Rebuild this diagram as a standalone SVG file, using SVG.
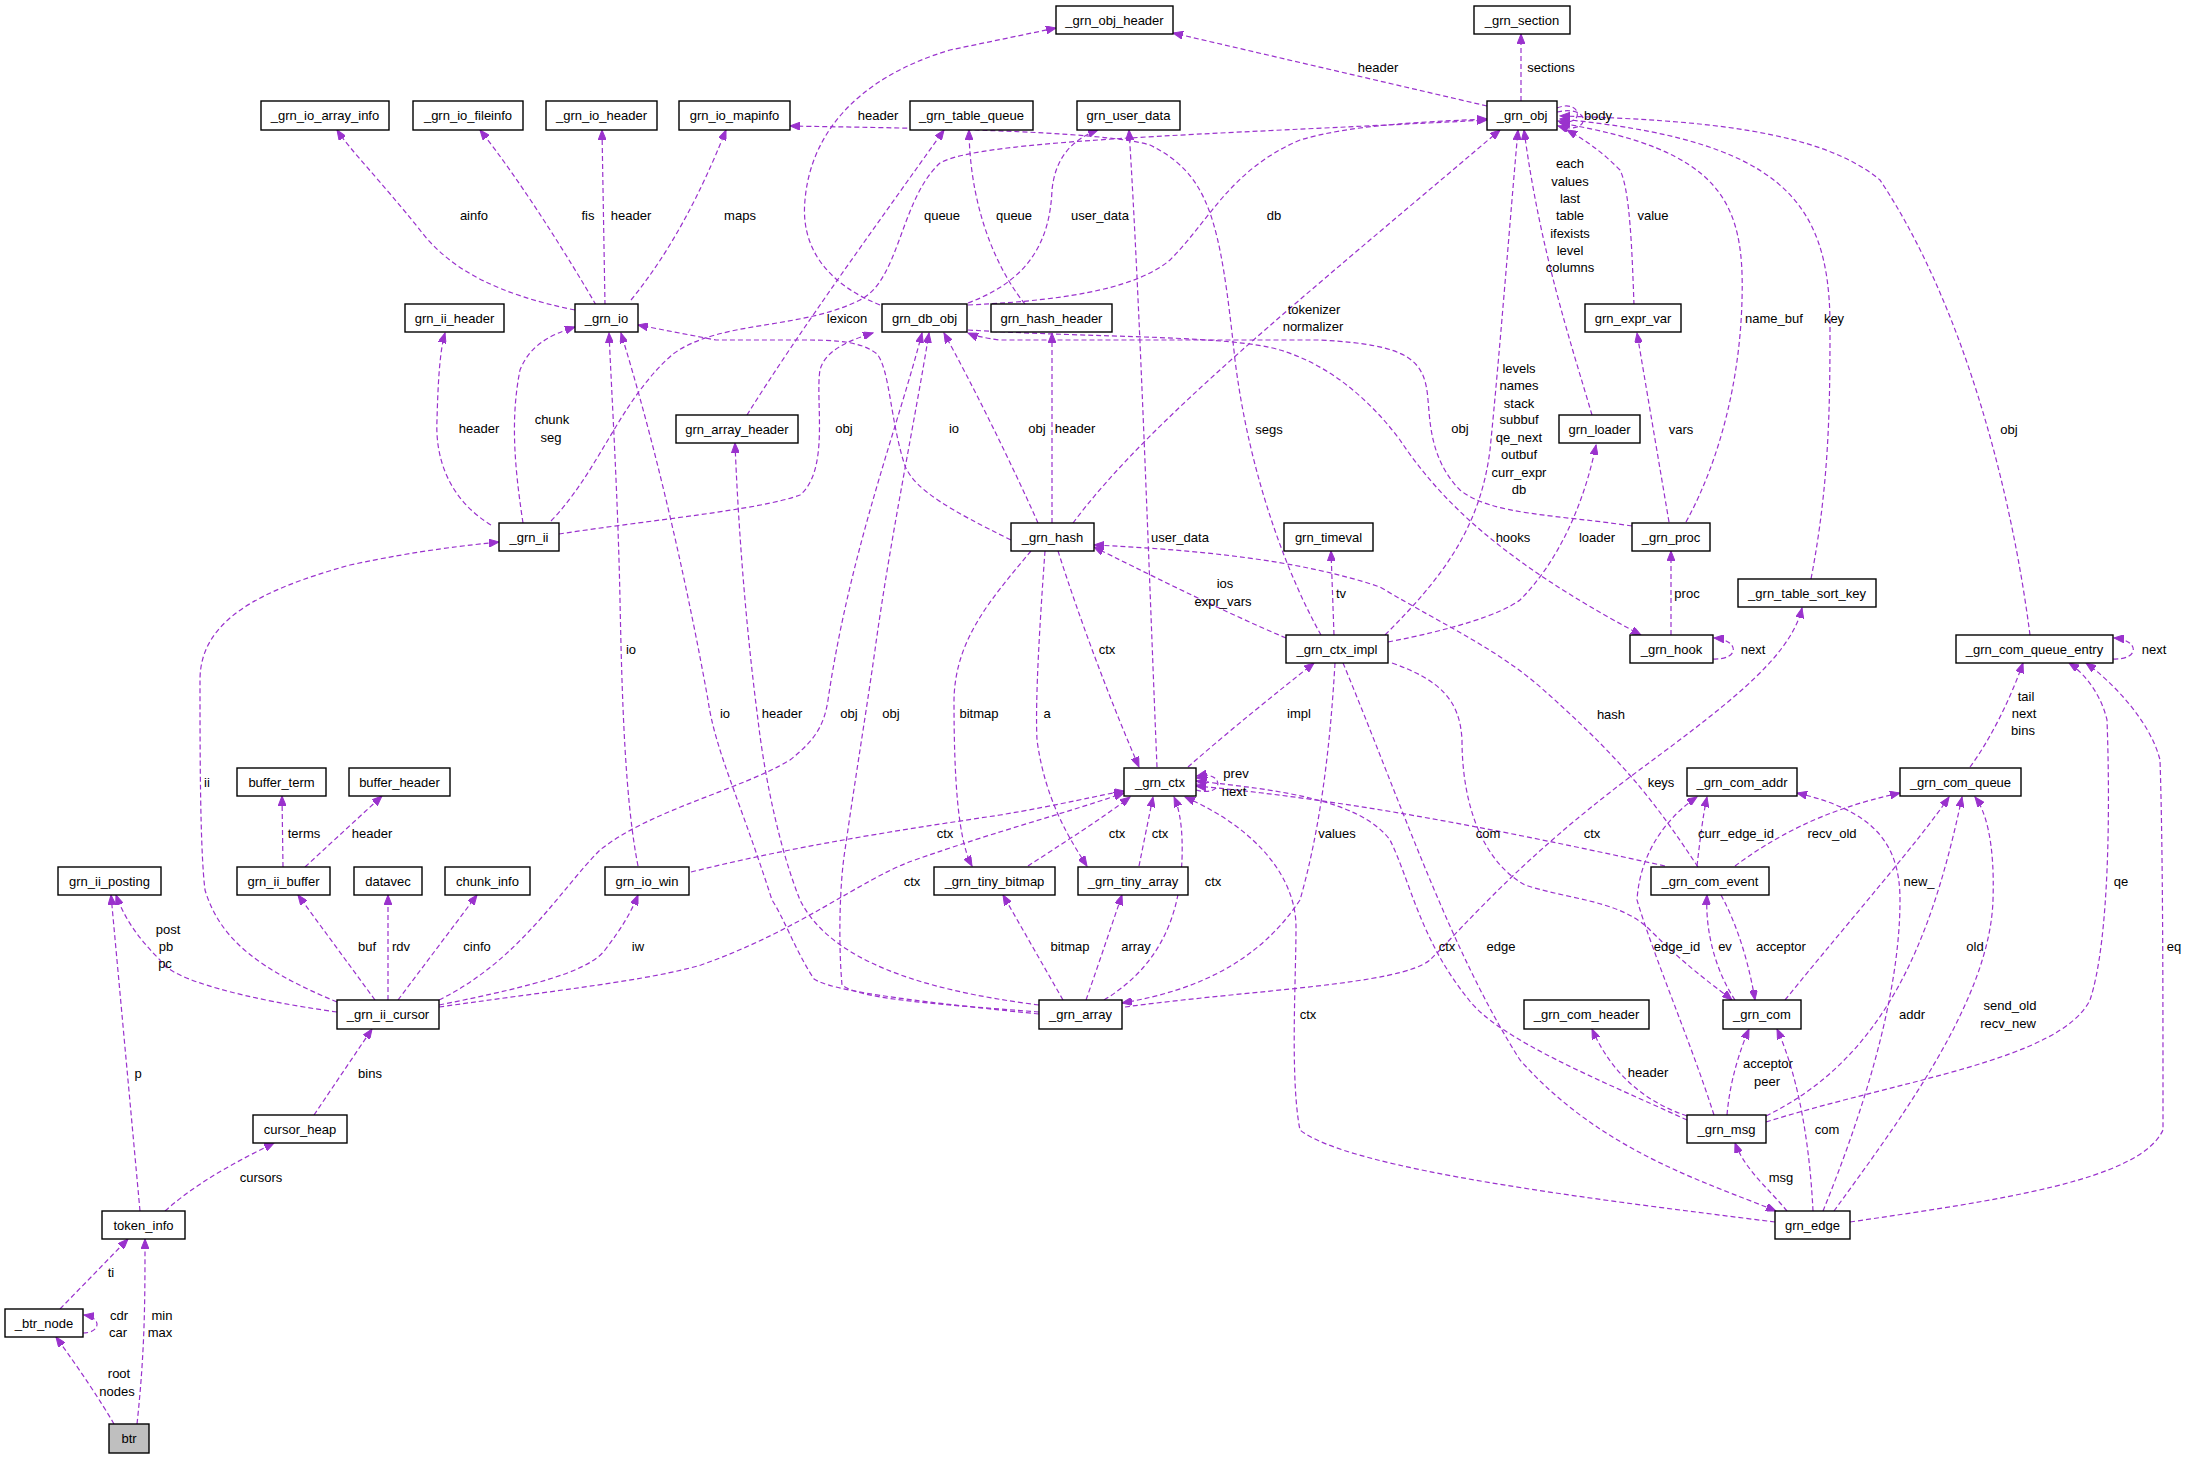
<svg xmlns="http://www.w3.org/2000/svg" width="2191" height="1459" viewBox="0 0 2191 1459">
<style>
text{font-family:"Liberation Sans",Arial,sans-serif;font-size:13px;fill:#000}
.n rect{fill:#fff;stroke:#000;stroke-width:1.4}
.n text{text-anchor:middle}
.e path{fill:none;stroke:#9a32cd;stroke-width:1.2;stroke-dasharray:5,3;marker-end:url(#a)}
.l text{text-anchor:middle}
</style>
<defs><marker id="a" markerUnits="userSpaceOnUse" markerWidth="11" markerHeight="8" refX="10" refY="4" orient="auto"><path d="M0,0 L10,4 L0,8 z" fill="#9a32cd" stroke="#9a32cd"/></marker></defs>
<rect width="2191" height="1459" fill="#fff"/>
<g class="e">
<path d="M880,305 C830,285 800,250 805,200 C810,140 850,80 950,50 L1056,28"/>
<path d="M575,310 C500,295 450,270 420,230 C380,180 350,150 337,130"/>
<path d="M596,305 C570,260 520,180 480,130"/>
<path d="M605,305 L602,130"/>
<path d="M631,300 C680,240 710,170 726,130"/>
<path d="M491,525 C450,500 435,460 437,420 C438,380 440,350 445,333"/>
<path d="M523,523 C515,470 510,420 520,370 C530,345 550,335 575,327"/>
<path d="M551,521 C600,470 620,400 673,354 C720,320 800,330 860,300 C900,280 900,200 940,163 C980,140 1200,135 1487,120"/>
<path d="M559,534 C650,520 760,510 800,495 C830,470 815,400 820,370 C825,350 850,340 873,333"/>
<path d="M747,415 C800,330 880,220 944,130"/>
<path d="M1025,304 C1005,280 970,220 969,130"/>
<path d="M968,303 C1030,280 1050,240 1052,190 C1055,160 1070,140 1098,130"/>
<path d="M968,305 C1080,300 1140,285 1170,260 C1210,220 1230,170 1300,140 C1350,125 1420,122 1487,119"/>
<path d="M1011,540 C950,510 915,490 905,466 C890,420 890,370 877,354 C860,340 830,340 800,340 L716,340 L638,325"/>
<path d="M1038,523 C1010,460 970,380 944,333"/>
<path d="M1052,523 L1052,333"/>
<path d="M1073,523 C1150,420 1300,300 1500,130"/>
<path d="M1632,526 C1560,515 1490,515 1460,490 C1430,460 1430,420 1428,400 C1425,360 1410,345 1321,340 L1000,340 C985,338 975,336 968,333"/>
<path d="M1321,635 C1290,580 1250,480 1235,360 C1220,220 1210,175 1150,145 C1100,130 900,128 790,126"/>
<path d="M968,330 C1100,338 1230,335 1280,350 C1330,365 1370,400 1400,440 C1440,500 1500,560 1641,635"/>
<path d="M1388,642 C1450,630 1500,615 1520,600 C1560,560 1585,500 1596,445"/>
<path d="M1385,635 C1440,580 1480,530 1490,450 C1500,350 1510,220 1518,130"/>
<path d="M1592,415 C1570,340 1540,250 1524,130"/>
<path d="M1634,305 C1632,250 1630,190 1620,170 C1600,150 1585,140 1567,130"/>
<path d="M1669,522 L1637,333"/>
<path d="M1686,522 C1720,460 1740,380 1742,300 C1745,200 1720,150 1560,123"/>
<path d="M1811,579 C1830,480 1830,400 1830,320 C1828,200 1780,140 1560,119"/>
<path d="M2030,635 C2010,480 1960,300 1880,180 C1820,130 1700,120 1560,116"/>
<path d="M1557,108 C1582,98 1586,128 1558,121"/>
<path d="M1557,112 C1592,104 1592,136 1558,126"/>
<path d="M1487,106 L1173,33"/>
<path d="M1521,101 L1521,34"/>
<path d="M1671,635 L1671,551"/>
<path d="M1713,659 C1740,660 1740,640 1714,638"/>
<path d="M2113,659 C2140,660 2140,640 2114,638"/>
<path d="M1334,635 L1331,551"/>
<path d="M1286,638 C1220,610 1140,570 1094,547"/>
<path d="M1698,867 C1660,810 1630,767 1547,693 C1500,650 1447,627 1380,587 C1300,560 1200,550 1094,545"/>
<path d="M1125,1007 C1250,990 1400,985 1430,960 C1470,920 1520,860 1630,777 C1720,710 1790,660 1802,608"/>
<path d="M1139,866 L1153,797"/>
<path d="M1028,866 C1060,845 1100,820 1130,797"/>
<path d="M691,872 C800,845 900,830 1000,815 C1060,805 1100,795 1124,791"/>
<path d="M439,1007 C560,990 650,980 701,965 C800,930 860,880 912,861 C1000,830 1060,815 1124,793"/>
<path d="M1104,1000 C1170,960 1180,900 1182,860 C1183,830 1180,810 1174,797"/>
<path d="M1058,551 C1080,620 1110,700 1139,767"/>
<path d="M1157,767 C1150,600 1140,300 1129,130"/>
<path d="M1188,767 C1230,730 1280,690 1314,663"/>
<path d="M1335,663 C1330,750 1320,830 1300,900 C1260,960 1200,990 1122,1003"/>
<path d="M1392,663 C1440,680 1460,700 1462,740 C1462,800 1480,860 1525,885 C1570,900 1620,900 1650,930 C1690,970 1720,990 1732,1000"/>
<path d="M1343,663 C1400,800 1450,950 1520,1060 C1600,1150 1700,1180 1776,1211"/>
<path d="M1665,866 C1500,830 1350,800 1196,786"/>
<path d="M1687,1120 C1600,1080 1500,1040 1469,1000 C1420,940 1410,880 1390,840 C1360,800 1280,790 1196,781"/>
<path d="M1775,1222 C1600,1200 1350,1170 1300,1130 C1290,1080 1296,980 1296,927 C1296,880 1260,830 1185,797"/>
<path d="M1697,866 C1700,840 1703,815 1707,797"/>
<path d="M1735,866 C1770,840 1820,810 1900,793"/>
<path d="M1735,1000 C1715,970 1705,930 1707,895"/>
<path d="M1721,895 C1740,930 1750,970 1755,1000"/>
<path d="M1785,1000 C1850,920 1920,840 1949,797"/>
<path d="M1714,1115 C1690,1040 1655,960 1637,900 C1640,850 1670,815 1697,797"/>
<path d="M1727,1115 C1730,1080 1740,1050 1749,1029"/>
<path d="M1687,1116 C1640,1100 1610,1070 1592,1029"/>
<path d="M1766,1116 C1880,1060 1930,950 1962,797"/>
<path d="M1766,1122 C1900,1080 2060,1060 2090,1000 C2110,940 2110,800 2107,720 C2100,690 2080,670 2069,663"/>
<path d="M1787,1211 C1770,1190 1745,1170 1735,1143"/>
<path d="M1813,1211 C1810,1150 1800,1080 1777,1029"/>
<path d="M1823,1211 C1860,1120 1900,1000 1900,900 C1900,840 1870,810 1797,793"/>
<path d="M1834,1211 C1900,1120 1990,1000 1993,900 C1995,840 1985,810 1975,797"/>
<path d="M1850,1222 C2000,1200 2140,1180 2163,1130 C2163,1000 2163,850 2160,760 C2150,720 2110,680 2086,663"/>
<path d="M1970,767 C1990,740 2010,700 2023,663"/>
<path d="M337,1002 C260,970 220,940 205,890 C200,850 200,750 200,680 C200,620 260,590 350,565 C420,550 470,545 499,542"/>
<path d="M337,1012 C250,1000 170,980 160,960 C140,940 125,920 116,895"/>
<path d="M375,1000 L298,895"/>
<path d="M388,1000 L388,895"/>
<path d="M398,1000 L477,895"/>
<path d="M439,1005 C540,985 590,970 605,950 C620,930 630,915 638,895"/>
<path d="M439,1000 C520,960 560,890 600,850 C650,810 740,790 790,760 C815,740 824,726 828,700 C850,550 900,420 922,333"/>
<path d="M1039,1012 C950,1005 860,1000 842,985 C838,940 840,880 845,850 C855,780 865,720 875,650 C890,540 915,420 929,333"/>
<path d="M1039,1014 C900,1000 830,990 814,979 C795,950 785,920 772,900 C740,800 715,750 708,700 C690,600 660,460 621,333"/>
<path d="M1039,1005 C920,990 830,960 800,900 C780,850 765,780 758,720 C745,620 738,520 735,443"/>
<path d="M638,866 C625,800 622,700 620,600 C618,500 612,400 609,333"/>
<path d="M1031,551 C990,600 955,640 954,700 C954,780 958,840 972,866"/>
<path d="M1045,551 C1040,620 1035,700 1037,740 C1045,800 1070,840 1087,866"/>
<path d="M1063,1000 L1003,895"/>
<path d="M1086,1000 C1100,960 1110,930 1122,895"/>
<path d="M140,1211 L111,895"/>
<path d="M165,1211 C200,1180 240,1160 274,1143"/>
<path d="M314,1115 L372,1029"/>
<path d="M283,867 L282,796"/>
<path d="M305,867 L382,796"/>
<path d="M60,1309 L128,1239"/>
<path d="M1196,790 C1225,798 1225,770 1197,776"/>
<path d="M1196,784 C1212,786 1212,776 1197,778"/>
<path d="M83,1333 C100,1333 103,1318 84,1315"/>
<path d="M114,1424 C100,1400 80,1370 56,1337"/>
<path d="M137,1424 C145,1350 145,1300 145,1239"/>
</g>
<g class="l">
<text x="878" y="120">header</text><text x="474" y="220">ainfo</text><text x="588" y="220">fis</text><text x="631" y="220">header</text><text x="740" y="220">maps</text>
<text x="479" y="433">header</text><text x="552" y="424">chunk</text><text x="551" y="442">seg</text><text x="847" y="323">lexicon</text><text x="844" y="433">obj</text>
<text x="942" y="220">queue</text><text x="1014" y="220">queue</text><text x="1100" y="220">user_data</text><text x="1274" y="220">db</text>
<text x="954" y="433">io</text><text x="1037" y="433">obj</text><text x="1075" y="433">header</text><text x="1314" y="314">tokenizer</text><text x="1313" y="331">normalizer</text>
<text x="1460" y="433">obj</text><text x="1269" y="434">segs</text><text x="1513" y="542">hooks</text><text x="1597" y="542">loader</text>
<text x="1519" y="373">levels</text><text x="1519" y="390">names</text><text x="1519" y="408">stack</text><text x="1519" y="424">subbuf</text><text x="1519" y="442">qe_next</text><text x="1519" y="459">outbuf</text><text x="1519" y="477">curr_expr</text><text x="1519" y="494">db</text>
<text x="1570" y="168">each</text><text x="1570" y="186">values</text><text x="1570" y="203">last</text><text x="1570" y="220">table</text><text x="1570" y="238">ifexists</text><text x="1570" y="255">level</text><text x="1570" y="272">columns</text>
<text x="1653" y="220">value</text><text x="1681" y="434">vars</text><text x="1774" y="323">name_buf</text><text x="1834" y="323">key</text><text x="2009" y="434">obj</text>
<text x="1598" y="120">body</text><text x="1378" y="72">header</text><text x="1551" y="72">sections</text><text x="1687" y="598">proc</text><text x="1753" y="654">next</text><text x="2154" y="654">next</text>
<text x="1341" y="598">tv</text><text x="1225" y="588">ios</text><text x="1223" y="606">expr_vars</text><text x="1611" y="719">hash</text><text x="1661" y="787">keys</text>
<text x="1160" y="838">ctx</text><text x="1117" y="838">ctx</text><text x="945" y="838">ctx</text><text x="912" y="886">ctx</text><text x="1213" y="886">ctx</text><text x="1107" y="654">ctx</text>
<text x="1180" y="542">user_data</text><text x="1299" y="718">impl</text><text x="1337" y="838">values</text><text x="1488" y="838">com</text><text x="1501" y="951">edge</text><text x="1592" y="838">ctx</text><text x="1447" y="951">ctx</text><text x="1308" y="1019">ctx</text>
<text x="1236" y="778">prev</text><text x="1234" y="796">next</text>
<text x="1736" y="838">curr_edge_id</text><text x="1832" y="838">recv_old</text><text x="1725" y="951">ev</text><text x="1781" y="951">acceptor</text><text x="1919" y="886">new_</text><text x="1677" y="951">edge_id</text>
<text x="1768" y="1068">acceptor</text><text x="1767" y="1086">peer</text><text x="1648" y="1077">header</text><text x="1975" y="951">old</text><text x="2121" y="886">qe</text><text x="1781" y="1182">msg</text><text x="1827" y="1134">com</text><text x="1912" y="1019">addr</text>
<text x="2010" y="1010">send_old</text><text x="2008" y="1028">recv_new</text><text x="2174" y="951">eq</text><text x="2026" y="701">tail</text><text x="2024" y="718">next</text><text x="2023" y="735">bins</text>
<text x="207" y="787">ii</text><text x="168" y="934">post</text><text x="166" y="951">pb</text><text x="165" y="968">pc</text><text x="367" y="951">buf</text><text x="401" y="951">rdv</text><text x="477" y="951">cinfo</text><text x="638" y="951">iw</text>
<text x="849" y="718">obj</text><text x="891" y="718">obj</text><text x="725" y="718">io</text><text x="782" y="718">header</text><text x="631" y="654">io</text><text x="979" y="718">bitmap</text><text x="1047" y="718">a</text><text x="1070" y="951">bitmap</text><text x="1136" y="951">array</text>
<text x="138" y="1078">p</text><text x="261" y="1182">cursors</text><text x="370" y="1078">bins</text><text x="304" y="838">terms</text><text x="372" y="838">header</text><text x="111" y="1277">ti</text>
<text x="119" y="1320">cdr</text><text x="118" y="1337">car</text><text x="119" y="1378">root</text><text x="117" y="1396">nodes</text><text x="162" y="1320">min</text><text x="160" y="1337">max</text>
</g>
<g id="n_grn_obj_header" class="n"><rect x="1056" y="6" width="117" height="28"/><text x="1114.5" y="24.5">_grn_obj_header</text></g>
<g id="n_grn_section" class="n"><rect x="1474" y="6" width="96" height="28"/><text x="1522" y="24.5">_grn_section</text></g>
<g id="n_grn_io_array_info" class="n"><rect x="261" y="101" width="128" height="29"/><text x="325" y="120">_grn_io_array_info</text></g>
<g id="n_grn_io_fileinfo" class="n"><rect x="413" y="101" width="110" height="29"/><text x="468" y="120">_grn_io_fileinfo</text></g>
<g id="n_grn_io_header" class="n"><rect x="546" y="101" width="111" height="29"/><text x="601.5" y="120">_grn_io_header</text></g>
<g id="n_grn_io_mapinfo" class="n"><rect x="679" y="101" width="111" height="29"/><text x="734.5" y="120">grn_io_mapinfo</text></g>
<g id="n_grn_table_queue" class="n"><rect x="910" y="101" width="123" height="29"/><text x="971.5" y="120">_grn_table_queue</text></g>
<g id="n_grn_user_data" class="n"><rect x="1077" y="101" width="103" height="29"/><text x="1128.5" y="120">grn_user_data</text></g>
<g id="n_grn_obj" class="n"><rect x="1487" y="101" width="70" height="29"/><text x="1522" y="120">_grn_obj</text></g>
<g id="n_grn_ii_header" class="n"><rect x="405" y="304" width="99" height="28"/><text x="454.5" y="322.5">grn_ii_header</text></g>
<g id="n_grn_io" class="n"><rect x="575" y="304" width="63" height="28"/><text x="606.5" y="322.5">_grn_io</text></g>
<g id="n_grn_db_obj" class="n"><rect x="882" y="304" width="85" height="28"/><text x="924.5" y="322.5">grn_db_obj</text></g>
<g id="n_grn_hash_header" class="n"><rect x="991" y="304" width="121" height="28"/><text x="1051.5" y="322.5">grn_hash_header</text></g>
<g id="n_grn_expr_var" class="n"><rect x="1585" y="304" width="96" height="28"/><text x="1633" y="322.5">grn_expr_var</text></g>
<g id="n_grn_array_header" class="n"><rect x="676" y="415" width="122" height="28"/><text x="737" y="433.5">grn_array_header</text></g>
<g id="n_grn_loader" class="n"><rect x="1559" y="415" width="81" height="28"/><text x="1599.5" y="433.5">grn_loader</text></g>
<g id="n_grn_ii" class="n"><rect x="499" y="523" width="60" height="28"/><text x="529" y="541.5">_grn_ii</text></g>
<g id="n_grn_hash" class="n"><rect x="1011" y="523" width="83" height="28"/><text x="1052.5" y="541.5">_grn_hash</text></g>
<g id="n_grn_timeval" class="n"><rect x="1284" y="523" width="89" height="28"/><text x="1328.5" y="541.5">grn_timeval</text></g>
<g id="n_grn_proc" class="n"><rect x="1632" y="523" width="78" height="28"/><text x="1671" y="541.5">_grn_proc</text></g>
<g id="n_grn_table_sort_key" class="n"><rect x="1738" y="579" width="138" height="28"/><text x="1807" y="597.5">_grn_table_sort_key</text></g>
<g id="n_grn_ctx_impl" class="n"><rect x="1286" y="635" width="102" height="28"/><text x="1337" y="653.5">_grn_ctx_impl</text></g>
<g id="n_grn_hook" class="n"><rect x="1630" y="635" width="83" height="28"/><text x="1671.5" y="653.5">_grn_hook</text></g>
<g id="n_grn_com_queue_entry" class="n"><rect x="1956" y="635" width="157" height="28"/><text x="2034.5" y="653.5">_grn_com_queue_entry</text></g>
<g id="n_buffer_term" class="n"><rect x="237" y="768" width="89" height="28"/><text x="281.5" y="786.5">buffer_term</text></g>
<g id="n_buffer_header" class="n"><rect x="349" y="768" width="101" height="28"/><text x="399.5" y="786.5">buffer_header</text></g>
<g id="n_grn_ctx" class="n"><rect x="1124" y="768" width="72" height="28"/><text x="1160" y="786.5">_grn_ctx</text></g>
<g id="n_grn_com_addr" class="n"><rect x="1687" y="768" width="110" height="28"/><text x="1742" y="786.5">_grn_com_addr</text></g>
<g id="n_grn_com_queue" class="n"><rect x="1900" y="768" width="121" height="28"/><text x="1960.5" y="786.5">_grn_com_queue</text></g>
<g id="n_grn_ii_posting" class="n"><rect x="58" y="867" width="103" height="28"/><text x="109.5" y="885.5">grn_ii_posting</text></g>
<g id="n_grn_ii_buffer" class="n"><rect x="237" y="867" width="93" height="28"/><text x="283.5" y="885.5">grn_ii_buffer</text></g>
<g id="n_datavec" class="n"><rect x="354" y="867" width="68" height="28"/><text x="388" y="885.5">datavec</text></g>
<g id="n_chunk_info" class="n"><rect x="445" y="867" width="85" height="28"/><text x="487.5" y="885.5">chunk_info</text></g>
<g id="n_grn_io_win" class="n"><rect x="605" y="867" width="84" height="28"/><text x="647" y="885.5">grn_io_win</text></g>
<g id="n_grn_tiny_bitmap" class="n"><rect x="934" y="867" width="121" height="28"/><text x="994.5" y="885.5">_grn_tiny_bitmap</text></g>
<g id="n_grn_tiny_array" class="n"><rect x="1078" y="867" width="110" height="28"/><text x="1133" y="885.5">_grn_tiny_array</text></g>
<g id="n_grn_com_event" class="n"><rect x="1651" y="867" width="118" height="28"/><text x="1710" y="885.5">_grn_com_event</text></g>
<g id="n_grn_ii_cursor" class="n"><rect x="337" y="1000" width="102" height="29"/><text x="388" y="1019">_grn_ii_cursor</text></g>
<g id="n_grn_array" class="n"><rect x="1039" y="1000" width="83" height="29"/><text x="1080.5" y="1019">_grn_array</text></g>
<g id="n_grn_com_header" class="n"><rect x="1524" y="1000" width="125" height="29"/><text x="1586.5" y="1019">_grn_com_header</text></g>
<g id="n_grn_com" class="n"><rect x="1723" y="1000" width="78" height="29"/><text x="1762" y="1019">_grn_com</text></g>
<g id="n_cursor_heap" class="n"><rect x="253" y="1115" width="94" height="28"/><text x="300" y="1133.5">cursor_heap</text></g>
<g id="n_grn_msg" class="n"><rect x="1687" y="1115" width="79" height="28"/><text x="1726.5" y="1133.5">_grn_msg</text></g>
<g id="n_token_info" class="n"><rect x="102" y="1211" width="83" height="28"/><text x="143.5" y="1229.5">token_info</text></g>
<g id="n_grn_edge" class="n"><rect x="1775" y="1211" width="75" height="28"/><text x="1812.5" y="1229.5">grn_edge</text></g>
<g id="n_btr_node" class="n"><rect x="5" y="1309" width="78" height="28"/><text x="44" y="1327.5">_btr_node</text></g>
<g id="n_btr" class="n"><rect x="109" y="1424" width="40" height="29" style="fill:#bfbfbf"/><text x="129" y="1443">btr</text></g>
</svg>
